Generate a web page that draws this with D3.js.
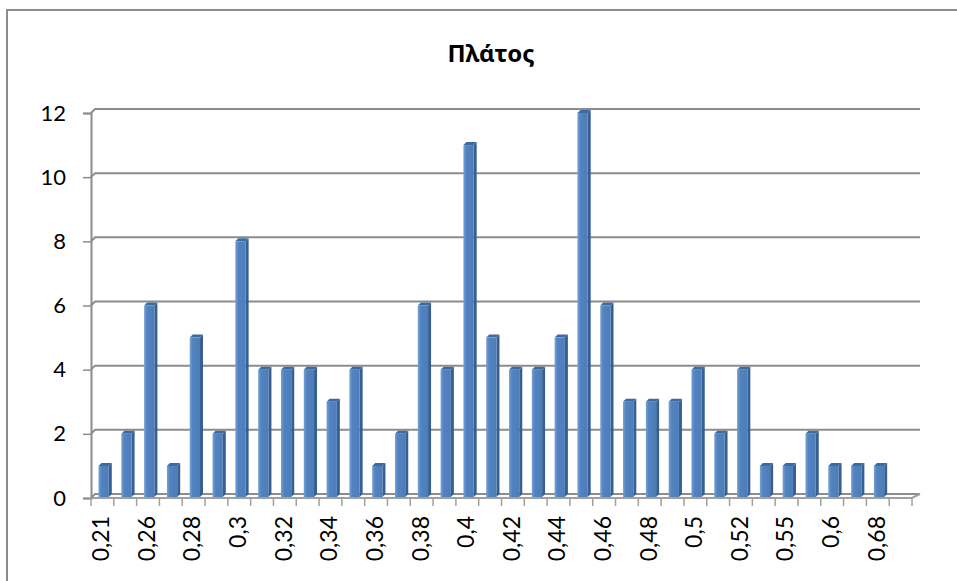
<!DOCTYPE html>
<html>
<head>
<meta charset="utf-8">
<script src="https://cdn.jsdelivr.net/npm/d3@7"></script>
<style>
  body { margin: 0; background: #fff; }
  svg { display: block; }
</style>
</head>
<body>
<div id="chart"></div>
<script>
// Data
const categories = ['0,21', '0,25', '0,26', '0,27', '0,28', '0,29', '0,3', '0,31', '0,32', '0,33',
    '0,34', '0,35', '0,36', '0,37', '0,38', '0,39', '0,4', '0,41', '0,42', '0,43',
    '0,44', '0,45', '0,46', '0,47', '0,48', '0,49', '0,5', '0,51', '0,52', '0,53',
    '0,55', '0,56', '0,6', '0,62', '0,68', ''];
const counts = [1, 2, 6, 1, 5, 2, 8, 4, 4, 4,
    3, 4, 1, 2, 6, 4, 11, 5, 4, 4,
    5, 12, 6, 3, 3, 3, 4, 2, 4, 1,
    1, 2, 1, 1, 1, 0];
const yTicks = [0, 2, 4, 6, 8, 10, 12];
const title = 'Πλάτος';

const width = 957, height = 581;
const plotLeft = 91, plotRight = 912, plotBottom = 498, plotTop = 113;
const wallDx = 4, wallDy = 4;   // depth of the back wall
const barDx = 3, barDy = 3;     // depth of a column

const svg = d3.select('#chart').append('svg')
    .attr('width', width)
    .attr('height', height);

// chart border (only top and left edges fall inside the picture)
svg.append('rect')
    .attr('x', 7).attr('y', 10)
    .attr('width', 960).attr('height', 590)
    .attr('fill', 'none')
    .attr('stroke', '#8c8c8c')
    .attr('stroke-width', 2);

svg.append('text')
    .attr('x', 491).attr('y', 62)
    .attr('text-anchor', 'middle')
    .attr('font-family', '"Noto Sans", "Open Sans", sans-serif')
    .attr('font-weight', 'bold')
    .attr('font-size', 24)
    .attr('fill', '#000')
    .text(title);

const x = d3.scaleBand().domain(d3.range(categories.length)).range([plotLeft, plotRight]);
const y = d3.scaleLinear().domain([0, 12]).range([plotBottom, plotTop]);

// gridlines on the back wall with their link to the side wall
svg.append('g').selectAll('path')
    .data(yTicks)
    .enter()
    .append('path')
    .attr('d', d => `M${plotLeft},${y(d)} L${plotLeft + wallDx},${y(d) - wallDy} L${plotRight + 8},${y(d) - wallDy}`)
    .attr('fill', 'none')
    .attr('stroke', '#8c8c8c')
    .attr('stroke-width', 2);

// floor right edge and front edge
svg.append('path')
    .attr('d', `M${plotLeft},${plotBottom} L${plotRight},${plotBottom} L${plotRight + wallDx + 4},${plotBottom - wallDy}`)
    .attr('fill', 'none')
    .attr('stroke', '#a0a0a0')
    .attr('stroke-width', 2);

// y axis
const yAxis = d3.axisLeft(y).tickValues(yTicks).tickSize(8).tickPadding(17);
const gy = svg.append('g')
    .attr('transform', `translate(${plotLeft},0)`)
    .call(yAxis);
gy.select('.domain').attr('stroke', '#8c8c8c').attr('stroke-width', 2);
gy.selectAll('.tick line').attr('stroke', '#8c8c8c').attr('stroke-width', 1.5);
gy.selectAll('.tick text')
    .attr('font-family', 'Lato, "Open Sans", sans-serif')
    .attr('font-size', 22)
    .attr('fill', '#000');

// x axis: ticks at category boundaries
const gx = svg.append('g');
gx.selectAll('line')
    .data(d3.range(categories.length + 1))
    .enter()
    .append('line')
    .attr('x1', i => plotLeft + i * x.step())
    .attr('x2', i => plotLeft + i * x.step())
    .attr('y1', plotBottom)
    .attr('y2', plotBottom + 8)
    .attr('stroke', '#a0a0a0')
    .attr('stroke-width', 1.5);

gx.selectAll('text')
    .data(categories.map((c, i) => ({ c, i })).filter(d => d.i % 2 === 0 && d.c !== ''))
    .enter()
    .append('text')
    .attr('transform', d => `translate(${x(d.i) + x.bandwidth() / 2 + 1},${plotBottom + 18}) rotate(-90)`)
    .attr('text-anchor', 'end')
    .attr('dominant-baseline', 'middle')
    .attr('font-family', 'Lato, "Open Sans", sans-serif')
    .attr('font-size', 23)
    .attr('fill', '#000')
    .text(d => d.c);

// 3D columns
const grad = svg.append('defs').append('linearGradient')
    .attr('id', 'front')
    .attr('x1', 0).attr('x2', 1).attr('y1', 0).attr('y2', 0);
grad.append('stop').attr('offset', 0).attr('stop-color', '#74a0d6');
grad.append('stop').attr('offset', 0.3).attr('stop-color', '#5283c0');
grad.append('stop').attr('offset', 1).attr('stop-color', '#4d7db9');

const barW = x.bandwidth() * 0.45;
const barX = i => x(i) + x.bandwidth() * 0.33;
const bars = svg.append('g').selectAll('g')
    .data(counts.map((v, i) => ({ v, i })).filter(d => d.v > 0))
    .enter()
    .append('g');

bars.append('path')
    .attr('d', d => {
        const x0 = barX(d.i) + barW, y0 = y(d.v), y1 = plotBottom - 1;
        return `M${x0},${y0} L${x0 + barDx},${y0 - barDy} L${x0 + barDx},${y1 - barDy} L${x0},${y1} Z`;
    })
    .attr('fill', '#375f90');

bars.append('path')
    .attr('d', d => {
        const x0 = barX(d.i), y0 = y(d.v);
        return `M${x0},${y0} L${x0 + barDx},${y0 - barDy} L${x0 + barW + barDx},${y0 - barDy} L${x0 + barW},${y0} Z`;
    })
    .attr('fill', '#40699e');

bars.append('rect')
    .attr('x', d => barX(d.i))
    .attr('y', d => y(d.v))
    .attr('width', barW)
    .attr('height', d => plotBottom - 1 - y(d.v))
    .attr('fill', 'url(#front)');
</script>
</body>
</html>
